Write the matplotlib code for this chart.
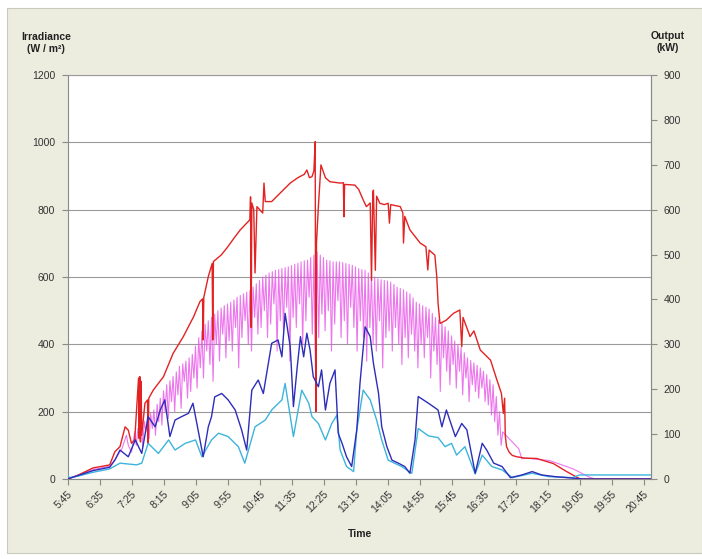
import matplotlib
matplotlib.use("Agg")
import matplotlib.pyplot as plt
from matplotlib.patches import Rectangle
import numpy as np

plt.rcParams['font.family'] = ['Liberation Sans', 'DejaVu Sans']

# ---------------- data (W/m² scale of the left axis) ----------------
red_t = ["5:45","6:00","6:25","6:40","6:51","6:59","7:07","7:15","7:20","7:25","7:30",
         "7:36","7:37","7:38","7:39","7:40","7:41","7:46","7:50","7:51","7:52","7:59",
         "8:15","8:30","8:46","9:02","9:12","9:16","9:17","9:18","9:25","9:31","9:32","9:33",
         "9:45","9:54","10:05","10:15","10:25","10:30","10:31","10:32","10:33","10:36","10:38",
         "10:41","10:50","10:52","10:54","11:04","11:15","11:33","11:45","11:55","11:59",
         "12:03","12:07","12:10","12:12","12:13","12:14","12:17","12:21","12:28","12:35",
         "12:51","12:56","12:57","12:58","13:14","13:20","13:27","13:32","13:38","13:40",
         "13:42","13:43","13:46","13:48","13:53","14:00","14:06","14:08","14:10","14:25",
         "14:29","14:30","14:32","14:40","14:56","15:05","15:08","15:10","15:19","15:22",
         "15:24","15:27","15:37","15:48","15:58","16:01","16:03","16:14","16:20","16:30",
         "16:46","16:56","17:03","17:06","17:08","17:09","17:11","17:15","17:20","17:27",
         "17:40","17:58","18:24","18:45","19:06","20:57"]
red_v = [0,10,33,38,42,81,96,155,145,106,116,
         300,120,304,110,290,130,225,235,106,240,264,
         304,373,423,482,527,535,413,540,601,640,413,646,
         665,686,715,740,760,770,838,450,820,800,612,
         809,790,879,824,824,845,879,895,905,918,
         895,898,915,1002,200,700,809,933,895,883,
         879,880,779,875,873,860,829,809,820,590,
         850,858,620,840,819,815,819,760,815,809,
         790,701,780,740,701,690,621,680,665,600,
         522,462,472,492,502,393,480,423,440,383,
         353,294,254,195,240,130,96,80,70,66,
         62,61,46,22,0,0]

# magenta series: early part, oscillating part (peaks / dips every 5 min), late part
mag_early_t = ["5:45","6:25","6:51","7:00","7:10","7:17","7:20","7:25"]
mag_early_v = [0,28,38,60,90,130,100,80]
mag_peak_start = "7:30"
mag_peak = [140,150,160,172,185,195,205,222,240,262,
            280,292,305,318,335,342,350,360,370,395,
            420,440,460,470,480,490,500,508,515,520,
            525,532,540,545,550,555,560,570,580,590,
            600,606,612,616,620,622,625,628,630,634,
            638,641,645,648,650,658,665,675,665,658,
            650,648,645,645,645,643,640,638,635,630,
            625,622,620,612,605,600,595,592,590,588,
            585,578,570,566,562,556,550,538,525,520,
            515,510,505,492,480,472,465,452,440,425,
            410,400,390,375,360,352,345,338,330,320,
            310,295,280,245,200,140]
mag_dip = [100,120,95,140,120,150,130,170,160,200,
           180,230,200,250,210,290,240,260,300,270,
           330,300,380,340,290,400,350,430,360,410,
           380,450,330,420,470,400,380,480,430,450,
           500,420,460,520,380,470,440,510,350,480,
           450,520,400,470,540,430,320,420,490,440,
           500,380,460,530,420,470,400,510,450,380,
           470,420,350,450,400,380,470,330,420,440,
           380,450,400,340,420,360,430,380,330,400,
           360,420,300,380,340,260,360,320,280,340,
           270,320,250,300,230,280,260,240,270,230,
           220,190,170,130,100]
mag_late_t = ["17:30","17:35","17:42","18:00","18:18","18:40","18:55","19:21","19:30","20:57"]
mag_late_v = [90,60,62,58,55,40,30,5,0,0]

blue_t = ["5:45","6:25","6:51","6:59","7:07","7:20","7:31","7:41","7:51","8:02","8:10",
          "8:17","8:25","8:33","8:43","8:54","9:01","9:09","9:17","9:25","9:30","9:35",
          "9:46","9:56","10:07","10:17","10:25","10:33","10:43","10:51","11:04","11:14",
          "11:20","11:25","11:33","11:38","11:44","11:49","11:54","11:59","12:04","12:09",
          "12:17","12:22","12:28","12:35","12:43","12:48","12:54","13:01","13:09","13:17",
          "13:22","13:30","13:38","13:43","13:51","13:56","14:04","14:12","14:22","14:32",
          "14:40","14:48","14:53","15:09","15:24","15:30","15:37","15:51","16:01","16:09",
          "16:22","16:33","16:40","16:51","17:04","17:17","17:35","17:51","18:06","18:27",
          "18:59","19:10","20:57"]
blue_v = [0,25,35,56,86,66,116,76,185,155,205,
          235,126,175,185,195,225,146,66,155,185,244,
          254,235,205,146,86,264,294,254,403,413,
          363,492,393,215,334,423,363,433,383,304,
          274,324,205,284,324,136,106,66,37,146,
          284,452,423,344,254,155,96,56,47,37,
          17,116,245,225,205,155,205,126,165,146,
          17,106,86,47,37,4,12,22,12,7,
          2,0,0]

cyan_t = ["5:45","5:48","6:00","6:25","6:51","7:07","7:33","7:41","7:51","8:07","8:23",
          "8:33","8:49","9:05","9:15","9:30","9:41","9:56","10:12","10:22","10:38",
          "10:54","11:04","11:20","11:25","11:38","11:51","12:02","12:07","12:17","12:28",
          "12:38","12:46","12:51","13:01","13:12","13:17","13:27","13:38","13:48","13:56",
          "14:06","14:27","14:43","14:53","15:09","15:24","15:35","15:45","15:53","16:06",
          "16:22","16:33","16:48","17:04","17:20","17:51","18:17","18:54","19:05","20:57"]
cyan_v = [12,4,8,20,30,47,42,47,106,76,116,
          86,106,116,66,116,136,126,96,47,155,
          175,205,235,284,126,264,225,185,165,116,
          165,190,86,37,22,146,264,235,175,116,
          56,37,17,150,128,123,96,106,71,96,
          15,71,37,27,4,17,7,4,12,12]

y_ticks = [0, 200, 400, 600, 800, 1000, 1200]
y2_ticks = [0, 100, 200, 300, 400, 500, 600, 700, 800, 900]
x_tick_labels = ["5:45","6:35","7:25","8:15","9:05","9:55","10:45","11:35","12:25",
                 "13:15","14:05","14:55","15:45","16:35","17:25","18:15","19:05","19:55","20:45"]


def to_min(s):
    h, m = s.split(":")
    return int(h) * 60 + int(m)


# build magenta series (peaks and dips interleaved in time order)
p0 = to_min(mag_peak_start)
mag_t = [to_min(s) for s in mag_early_t]
mag_v = list(mag_early_v)
for i, pv in enumerate(mag_peak):
    mag_t.append(p0 + 5 * i)
    mag_v.append(pv)
    if i < len(mag_dip):
        mag_t.append(p0 + 5 * i + 2.5)
        mag_v.append(mag_dip[i])
mag_t += [to_min(s) for s in mag_late_t]
mag_v += mag_late_v

# ---------------- figure ----------------
W, H = 702, 559
fig = plt.figure(figsize=(W / 100, H / 100), dpi=100)
fig.patch.set_facecolor("white")
panel = Rectangle((7 / W, (H - 553) / H), (W - 7) / W, (553 - 8) / H,
                  transform=fig.transFigure, facecolor="#ececdf",
                  edgecolor="#c9c9c0", lw=0.8, zorder=-10)
fig.add_artist(panel)

L, R, T, B = 67.5, 651, 75, 479
ax = fig.add_axes([L / W, (H - B) / H, (R - L) / W, (B - T) / H])
ax.set_zorder(1)
ax.set_facecolor("white")

ax.plot(mag_t, mag_v, color="#e855e8", lw=0.8, alpha=0.8, zorder=2)
ax.plot([to_min(s) for s in red_t], red_v, color="#e32222", lw=1.0, zorder=3)
ax.plot([to_min(s) for s in cyan_t], cyan_v, color="#3cb4dc", lw=1.0, zorder=4)
ax.plot([to_min(s) for s in blue_t], blue_v, color="#2d2db9", lw=1.0, zorder=5)

x0 = to_min("5:45")
ax.set_xlim(x0, x0 + (R - L) / 0.64)
ax.set_ylim(0, 1200)
ax.set_yticks(y_ticks)
ax.set_yticklabels([str(v) for v in y_ticks])
ax.set_xticks([to_min(s) for s in x_tick_labels])
ax.set_xticklabels(x_tick_labels, rotation=45, ha="right", rotation_mode="anchor")
ax.yaxis.grid(True, color="#9a9a9a", lw=0.8)
ax.set_axisbelow(True)

for side in ["left", "bottom", "right"]:
    ax.spines[side].set_color("#8a8a8a")
    ax.spines[side].set_linewidth(0.8)
ax.spines["top"].set_color("#9a9a9a")
ax.spines["top"].set_linewidth(0.8)
ax.tick_params(axis="both", colors="#8a8a8a", labelcolor="#333333", labelsize=7.5,
               length=4, width=0.8, direction="out")
ax.tick_params(axis="y", pad=5)
ax.tick_params(axis="x", pad=3)

ax2 = ax.secondary_yaxis("right", functions=(lambda v: v * 0.75, lambda v: v / 0.75))
ax2.set_yticks(y2_ticks)
ax2.set_yticklabels([str(v) for v in y2_ticks])
ax2.spines["right"].set_color("#8a8a8a")
ax2.spines["right"].set_linewidth(0.8)
ax2.tick_params(axis="y", colors="#8a8a8a", labelcolor="#333333", labelsize=7.5,
                length=4, width=0.8, direction="out", pad=5)

fig.text(46 / W, 1 - 43 / H, "Irradiance\n(W / m²)", ha="center", va="center",
         fontsize=7.5, fontweight="bold", color="#222222", linespacing=1.3)
fig.text(668 / W, 1 - 42 / H, "Output\n(kW)", ha="center", va="center",
         fontsize=7.5, fontweight="bold", color="#222222", linespacing=1.3)
fig.text(360 / W, 1 - 534 / H, "Time", ha="center", va="center",
         fontsize=7.5, fontweight="bold", color="#222222")

fig.savefig("out.png", dpi=100, facecolor=fig.get_facecolor())
